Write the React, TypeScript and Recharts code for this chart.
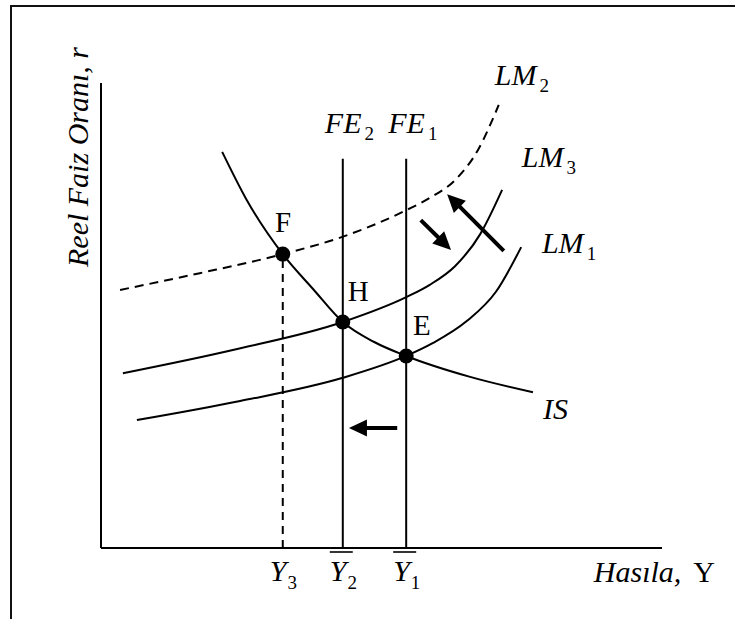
import React from 'react';
import { LineChart, Line, XAxis, YAxis, ReferenceLine, ReferenceDot } from 'recharts';

type Pt = { x: number; y: number };

const isCurve: Pt[] = [
  { x: 21.6, y: 85.2 }, { x: 26.0, y: 74.8 }, { x: 32.4, y: 63.2 }, { x: 37.8, y: 55.7 },
  { x: 43.1, y: 48.6 }, { x: 48.7, y: 44.3 }, { x: 54.4, y: 41.3 }, { x: 65.8, y: 36.8 },
  { x: 77.0, y: 33.5 },
];
const lm1Curve: Pt[] = [
  { x: 6.4, y: 27.5 }, { x: 24.8, y: 31.6 }, { x: 43.1, y: 36.6 }, { x: 54.4, y: 41.3 },
  { x: 59.2, y: 44.1 }, { x: 65.2, y: 48.8 }, { x: 70.4, y: 55.1 }, { x: 74.9, y: 64.7 },
];
const lm2Curve: Pt[] = [
  { x: 3.4, y: 55.5 }, { x: 17.6, y: 59.1 }, { x: 32.4, y: 63.2 }, { x: 43.0, y: 66.9 },
  { x: 54.5, y: 72.7 }, { x: 58.6, y: 75.3 }, { x: 63.1, y: 79.1 }, { x: 67.2, y: 85.6 },
  { x: 70.9, y: 95.3 },
];
const lm3Curve: Pt[] = [
  { x: 3.9, y: 37.6 }, { x: 23.5, y: 42.6 }, { x: 43.1, y: 48.6 }, { x: 54.5, y: 54.0 },
  { x: 58.6, y: 56.6 }, { x: 63.1, y: 60.6 }, { x: 67.6, y: 67.5 }, { x: 71.5, y: 77.0 },
];

// equilibrium points F, H, E
const pointNames = ['F', 'H', 'E'];
const pointX = [32.4, 43.1, 54.4];
const pointY = [63.2, 48.6, 41.3];

// full-employment lines FE2, FE1
const feSubs = ['2', '1'];
const feX = [43.1, 54.4];
const feTop = 83.7;

// x-axis ticks: Y3, Ȳ2, Ȳ1
const outputTicks = [32.4, 43.1, 54.4];
const outputSubs = ['3', '2', '1'];
const outputBars = [false, true, true];

// shift arrows [tail, tip]
const arrows: [Pt, Pt][] = [
  [{ x: 57.0, y: 70.5 }, { x: 62.4, y: 64.1 }],
  [{ x: 71.8, y: 63.9 }, { x: 61.7, y: 76.1 }],
  [{ x: 52.8, y: 25.8 }, { x: 44.2, y: 25.8 }],
];

// where the text labels sit (start of text, baseline)
const curveLabelSpots = [
  { base: 'LM', sub: '2', x: 70.2, y: 99.6 },
  { base: 'LM', sub: '3', x: 75.0, y: 81.9 },
  { base: 'LM', sub: '1', x: 78.6, y: 63.4 },
  { base: 'FE', sub: feSubs[0], x: 39.9, y: 89.2 },
  { base: 'FE', sub: feSubs[1], x: 51.2, y: 89.2 },
  { base: 'IS', sub: '', x: 78.8, y: 27.7 },
];
const pointLabelSpots = [
  { x: 31.0, y: 68.0 },
  { x: 44.0, y: 53.1 },
  { x: 55.6, y: 45.8 },
];

const SERIF = '"Liberation Serif", "Times New Roman", serif';

const Arrow = (p: any) => {
  const { x1, y1, x2, y2 } = p;
  const dx = x2 - x1;
  const dy = y2 - y1;
  const len = Math.hypot(dx, dy) || 1;
  const ux = dx / len;
  const uy = dy / len;
  const hl = 18;
  const hw = 8.5;
  const bx = x2 - ux * hl;
  const by = y2 - uy * hl;
  return (
    <g>
      <line x1={x1} y1={y1} x2={bx + ux * 2} y2={by + uy * 2} stroke="#000" strokeWidth={4} />
      <polygon
        points={`${x2},${y2} ${bx - uy * hw},${by + ux * hw} ${bx + uy * hw},${by - ux * hw}`}
        fill="#000"
      />
    </g>
  );
};

const SubText = ({ x, y, base, sub, size = 30, italic = true }: any) => (
  <text x={x} y={y} fontFamily={SERIF} fontSize={size} fontStyle={italic ? 'italic' : 'normal'} fill="#000">
    {base}
    {sub ? (
      <tspan fontSize={19} fontStyle="normal" dx={3} dy={7}>{sub}</tspan>
    ) : null}
  </text>
);

const OutputTick = (p: any) => {
  const i = outputTicks.indexOf(p.payload.value);
  if (i < 0) return <g />;
  const left = p.x - 13;
  const base = p.y + 33;
  return (
    <g>
      <text x={left} y={base} fontFamily={SERIF} fontSize={30} fontStyle="italic" fill="#000">
        Y<tspan fontSize={19} fontStyle="normal" dx={1} dy={8}>{outputSubs[i]}</tspan>
      </text>
      {outputBars[i] && (
        <line x1={left} x2={left + 23} y1={p.y + 4} y2={p.y + 4} stroke="#000" strokeWidth={1.6} />
      )}
    </g>
  );
};

const XTitle = (p: any) => {
  const vb = p.viewBox;
  return (
    <text x={vb.x + vb.width + 53} y={vb.y + 34} textAnchor="end" fontFamily={SERIF} fontSize={30} fill="#000">
      <tspan fontStyle="italic">Hasıla,</tspan>
      <tspan dx={12}>Y</tspan>
    </text>
  );
};

const YTitle = (p: any) => {
  const vb = p.viewBox;
  const x = vb.x - 12;
  const y = vb.y + vb.height - 281;
  return (
    <text
      x={x}
      y={y}
      transform={`rotate(-90 ${x} ${y})`}
      fontFamily={SERIF}
      fontSize={30}
      fontStyle="italic"
      fill="#000"
    >
      Reel Faiz Oranı, r
    </text>
  );
};

export default function App() {
  return (
    <div style={{ position: 'absolute', left: 0, top: 0, width: 735, height: 619, overflow: 'hidden', background: '#fff' }}>
      {/* frame */}
      <div
        style={{
          position: 'absolute', left: 10, top: 5, right: 0, bottom: 0,
          borderTop: '2px solid #111', borderLeft: '2px solid #111',
        }}
      />
      <div style={{ position: 'absolute', left: 0, top: 0 }}>
        <LineChart width={735} height={619} margin={{ top: 83, right: 73, bottom: 70, left: 100 }}>
          <XAxis
            type="number"
            dataKey="x"
            domain={[0, 100]}
            allowDataOverflow
            height={1}
            ticks={outputTicks}
            tick={OutputTick}
            tickLine={false}
            tickSize={0}
            tickMargin={0}
            interval={0}
            axisLine={{ stroke: '#000', strokeWidth: 2 }}
            label={XTitle}
          />
          <YAxis
            type="number"
            dataKey="y"
            domain={[0, 100]}
            allowDataOverflow
            width={1}
            ticks={[]}
            tick={false}
            tickLine={false}
            axisLine={{ stroke: '#000', strokeWidth: 2 }}
            label={YTitle}
          />

          {feX.map((x, i) => (
            <ReferenceLine
              key={`fe${i}`}
              segment={[{ x, y: 0 }, { x, y: feTop }]}
              stroke="#000"
              strokeWidth={2}
            />
          ))}
          <ReferenceLine
            segment={[{ x: pointX[0], y: 0 }, { x: pointX[0], y: pointY[0] }]}
            stroke="#000"
            strokeWidth={2}
            strokeDasharray="8 6"
          />

          <Line data={isCurve} dataKey="y" type="monotone" stroke="#000" strokeWidth={2} dot={false} isAnimationActive={false} />
          <Line data={lm1Curve} dataKey="y" type="monotone" stroke="#000" strokeWidth={2} dot={false} isAnimationActive={false} />
          <Line data={lm3Curve} dataKey="y" type="monotone" stroke="#000" strokeWidth={2} dot={false} isAnimationActive={false} />
          <Line
            data={lm2Curve}
            dataKey="y"
            type="monotone"
            stroke="#000"
            strokeWidth={2}
            strokeDasharray="9 6"
            dot={false}
            isAnimationActive={false}
          />

          {arrows.map((a, i) => (
            <ReferenceLine key={`ar${i}`} segment={a} shape={Arrow} />
          ))}

          {pointNames.map((n, i) => (
            <ReferenceDot key={`pt${i}`} x={pointX[i]} y={pointY[i]} r={7.5} fill="#000" stroke="none" />
          ))}

          {pointNames.map((n, i) => (
            <ReferenceDot
              key={`pl${i}`}
              x={pointLabelSpots[i].x}
              y={pointLabelSpots[i].y}
              r={0}
              shape={(p: any) => <SubText x={p.cx} y={p.cy} base={n} sub="" size={29} italic={false} />}
            />
          ))}

          {curveLabelSpots.map((l, i) => (
            <ReferenceDot
              key={`cl${i}`}
              x={l.x}
              y={l.y}
              r={0}
              shape={(p: any) => <SubText x={p.cx} y={p.cy} base={l.base} sub={l.sub} />}
            />
          ))}
        </LineChart>
      </div>
    </div>
  );
}
